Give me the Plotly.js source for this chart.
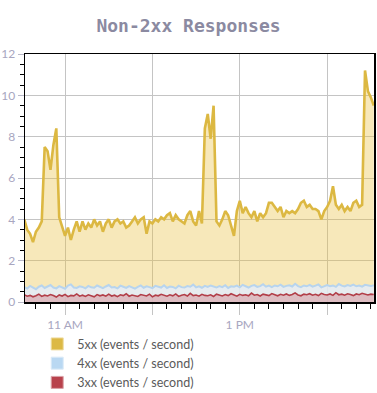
<!DOCTYPE html>
<html>
<head>
<meta charset="utf-8">
<script src="https://cdn.plot.ly/plotly-3.0.1.min.js"></script>
<style>html,body{margin:0;padding:0;background:#fff;}#chart{width:377px;height:393px;}</style>
</head>
<body>
<div id="chart"></div>
<script>
// Sample times (HH:MM on one day)
const times = [
  "10:32","10:34","10:36","10:38","10:40","10:42","10:44","10:46","10:48","10:50",
  "10:52","10:54","10:56","10:58","11:00","11:02","11:04","11:06","11:08","11:10",
  "11:12","11:14","11:16","11:18","11:20","11:22","11:24","11:26","11:28","11:30",
  "11:32","11:34","11:36","11:38","11:40","11:42","11:44","11:46","11:48","11:50",
  "11:52","11:54","11:56","11:58","12:00","12:02","12:04","12:06","12:08","12:10",
  "12:12","12:14","12:16","12:18","12:20","12:22","12:24","12:26","12:28","12:30",
  "12:32","12:34","12:36","12:38","12:40","12:42","12:44","12:46","12:48","12:50",
  "12:52","12:54","12:56","12:58","13:00","13:02","13:04","13:06","13:08","13:10",
  "13:12","13:14","13:16","13:18","13:20","13:22","13:24","13:26","13:28","13:30",
  "13:32","13:34","13:36","13:38","13:40","13:42","13:44","13:46","13:48","13:50",
  "13:52","13:54","13:56","13:58","14:00","14:02","14:04","14:06","14:08","14:10",
  "14:12","14:14","14:16","14:18","14:20","14:22","14:24","14:26","14:28","14:30",
  "14:32"
];

const values5xx = [
  4.0,3.5,3.3,2.9,3.4,3.6,3.9,7.5,7.3,6.4,
  7.6,8.4,4.1,3.7,3.2,3.6,3.0,3.5,3.9,3.4,
  3.9,3.5,3.8,3.6,4.0,3.7,3.9,3.4,3.8,4.0,
  3.6,3.9,4.0,3.8,3.9,3.6,3.7,3.9,4.1,3.8,
  4.0,4.1,3.3,3.9,3.8,4.0,3.9,4.1,4.0,4.2,
  4.3,3.9,4.2,4.0,3.9,3.8,4.2,4.4,3.9,3.7,
  4.4,3.8,8.4,9.1,7.9,9.5,3.9,3.7,4.0,4.4,
  4.2,3.7,3.2,4.4,4.9,4.3,4.6,4.3,4.1,4.4,
  3.9,4.3,4.1,4.3,4.8,4.8,4.6,4.4,4.6,4.1,
  4.4,4.3,4.4,4.3,4.5,4.8,4.9,4.6,4.7,4.5,
  4.5,4.4,4.0,4.4,4.6,4.9,5.6,4.7,4.5,4.7,
  4.4,4.6,4.4,4.8,4.9,4.6,4.7,11.2,10.2,9.9,
  9.5
];

const values4xx = [
  0.72,0.65,0.78,0.70,0.62,0.74,0.80,0.68,0.75,0.82,
  0.70,0.66,0.77,0.72,0.64,0.79,0.85,0.70,0.68,0.76,
  0.73,0.66,0.78,0.71,0.69,0.80,0.74,0.67,0.75,0.82,
  0.70,0.72,0.66,0.79,0.74,0.68,0.77,0.71,0.65,0.73,
  0.80,0.69,0.76,0.72,0.67,0.78,0.74,0.70,0.81,0.68,
  0.75,0.73,0.66,0.79,0.72,0.70,0.77,0.74,0.84,0.71,
  0.76,0.69,0.78,0.73,0.80,0.75,0.70,0.77,0.72,0.81,
  0.68,0.76,0.74,0.79,0.71,0.83,0.75,0.70,0.78,0.82,
  0.73,0.77,0.86,0.74,0.79,0.72,0.80,0.76,0.84,0.73,
  0.78,0.81,0.75,0.88,0.77,0.72,0.80,0.76,0.83,0.74,
  0.79,0.85,0.71,0.78,0.82,0.76,0.80,0.73,0.87,0.79,
  0.75,0.82,0.78,0.84,0.76,0.80,0.74,0.83,0.79,0.77,
  0.81
];

const values3xx = [
  0.35,0.28,0.32,0.25,0.30,0.38,0.27,0.33,0.29,0.36,
  0.31,0.24,0.34,0.29,0.37,0.26,0.32,0.30,0.39,0.28,
  0.33,0.27,0.35,0.31,0.25,0.36,0.30,0.34,0.28,0.38,
  0.29,0.33,0.26,0.35,0.31,0.40,0.28,0.34,0.30,0.27,
  0.36,0.32,0.29,0.38,0.25,0.33,0.30,0.37,0.31,0.28,
  0.35,0.30,0.39,0.27,0.33,0.36,0.29,0.42,0.31,0.34,
  0.28,0.37,0.32,0.30,0.35,0.27,0.38,0.33,0.29,0.36,
  0.31,0.40,0.34,0.28,0.37,0.32,0.35,0.30,0.43,0.33,
  0.36,0.29,0.38,0.34,0.31,0.41,0.35,0.30,0.37,0.33,
  0.39,0.32,0.36,0.44,0.34,0.30,0.38,0.35,0.40,0.33,
  0.37,0.31,0.42,0.36,0.34,0.39,0.32,0.45,0.35,0.38,
  0.33,0.40,0.36,0.31,0.39,0.35,0.42,0.37,0.34,0.38,
  0.36
];

const seriesNames = ["5xx (events / second)", "4xx (events / second)", "3xx (events / second)"];
const hourTicks = ["11:00", "12:00", "13:00", "14:00"];
const hourTickText = ["11 AM", "", "1 PM", ""];
const xRange = ["10:32:30", "14:32:10"];

const day = "2024-01-01 ";
const x = times.map(t => day + t);

const c5 = {line: "#dcb842", fill: "rgba(232,192,64,0.36)", sw: "#dcb945", swl: "#efdca0"};
const c4 = {line: "#b7d4ee", fill: "rgba(228,236,248,0.85)", sw: "#b9d8f2", swl: "#dbeaf7"};
const c3 = {line: "#b23e48", fill: "rgba(200,90,100,0.32)", sw: "#b8424c", swl: "#dba3a8"};

const traces = [
  {x: x, y: values5xx, type: "scatter", mode: "lines", fill: "tozeroy", fillcolor: c5.fill,
   line: {color: c5.line, width: 2.6}, showlegend: false, hoverinfo: "skip"},
  {x: x, y: values4xx, type: "scatter", mode: "lines", fill: "tozeroy", fillcolor: c4.fill,
   line: {color: c4.line, width: 2}, showlegend: false, hoverinfo: "skip"},
  {x: x, y: values3xx, type: "scatter", mode: "lines", fill: "tozeroy", fillcolor: c3.fill,
   line: {color: c3.line, width: 1.6}, showlegend: false, hoverinfo: "skip"},
  {x: [null], y: [null], type: "bar", name: seriesNames[0], marker: {color: c5.sw, line: {color: c5.swl, width: 1}}},
  {x: [null], y: [null], type: "bar", name: seriesNames[1], marker: {color: c4.sw, line: {color: c4.swl, width: 1}}},
  {x: [null], y: [null], type: "bar", name: seriesNames[2], marker: {color: c3.sw, line: {color: c3.swl, width: 1}}}
];

const tickFont = {family: "Lato, sans-serif", size: 12, color: "#a8a6bf"};

const layout = {
  width: 377, height: 393,
  margin: {l: 25, r: 3, t: 54, b: 91, pad: 0, autoexpand: false},
  paper_bgcolor: "#fff", plot_bgcolor: "#fff",
  title: {text: "Non-2xx Responses", x: 0.5, xanchor: "center", y: 0.935, yanchor: "middle",
          font: {family: "DejaVu Sans Mono, monospace", size: 18, color: "#8b8aa1", weight: "bold"}},
  showlegend: true,
  legend: {x: 0.035, xanchor: "left", y: -0.11, yanchor: "top", orientation: "v",
           font: {family: "Lato, sans-serif", size: 12.5, color: "#5a5a5a"},
           tracegroupgap: 0, itemwidth: 30, bgcolor: "rgba(0,0,0,0)"},
  xaxis: {
    type: "date", range: xRange.map(t => day + t),
    tickmode: "array", tickvals: hourTicks.map(t => day + t), ticktext: hourTickText,
    ticks: "outside", ticklen: 11, tickcolor: "#c4c4c4", tickwidth: 1,
    showgrid: true, gridcolor: "#c4c4c4", gridwidth: 1,
    showline: true, linecolor: "#000", linewidth: 1.5, mirror: true,
    tickfont: tickFont, zeroline: false,
    minor: {tick0: day + "10:00", dtick: 600000, ticks: "outside", ticklen: 5, tickcolor: "#000", tickwidth: 1, showgrid: false}
  },
  yaxis: {
    range: [0, 12], dtick: 2, tick0: 0,
    ticks: "outside", ticklen: 6, tickcolor: "#b8b8c8", tickwidth: 1,
    showgrid: true, gridcolor: "#c4c4c4", gridwidth: 1,
    showline: true, linecolor: "#000", linewidth: 1.5, mirror: true,
    tickfont: tickFont, zeroline: false,
    minor: {dtick: 0.5, ticks: "outside", ticklen: 4, tickcolor: "#000", tickwidth: 1, showgrid: false}
  },
  barmode: "overlay"
};

Plotly.newPlot("chart", traces, layout, {displayModeBar: false, staticPlot: true});
</script>
</body>
</html>
